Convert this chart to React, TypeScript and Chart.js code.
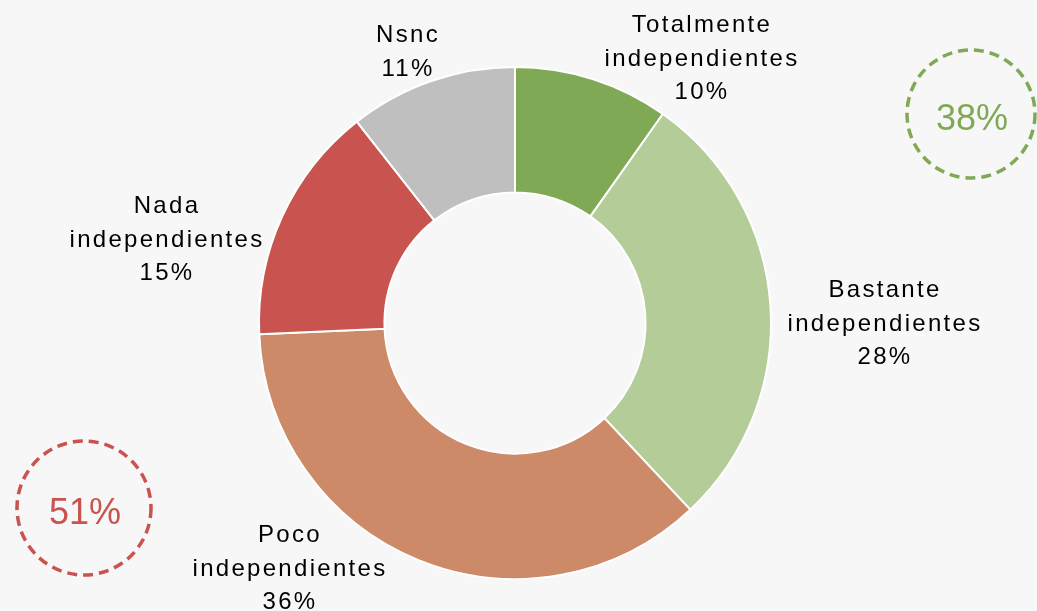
import React, { useEffect, useRef } from "react";
import { Chart, registerables } from "chart.js";

Chart.register(...registerables);

const categories = [
  "Totalmente independientes",
  "Bastante independientes",
  "Poco independientes",
  "Nada independientes",
  "Nsnc",
];
const values = [9.8, 28.2, 36.3, 15.1, 10.6];
const valueLabels = ["10%", "28%", "36%", "15%", "11%"];
const labelLines = [
  ["Totalmente", "independientes"],
  ["Bastante", "independientes"],
  ["Poco", "independientes"],
  ["Nada", "independientes"],
  ["Nsnc"],
];
const colors = ["#80A955", "#B3CC98", "#CD8A69", "#C9534E", "#BFBFBF"];
const summaryLabels = ["38%", "51%"];
const summaryColors = ["#80A955", "#C9534E"];

// layout positions for the outside labels (center x, baseline of first line)
const labelPos = [
  { x: 701, y: 32 },
  { x: 884, y: 297 },
  { x: 289, y: 542 },
  { x: 166, y: 213 },
  { x: 407, y: 42 },
];
const circlePos = [
  { x: 971, y: 114, r: 64, ty: 120 },
  { x: 84, y: 508, r: 67, ty: 514 },
];

const overlayPlugin = {
  id: "overlay",
  afterDraw(chart: any) {
    const ctx = chart.ctx as CanvasRenderingContext2D;
    ctx.save();
    ctx.fillStyle = "#000000";
    ctx.textAlign = "center";
    ctx.textBaseline = "alphabetic";
    ctx.font = '24px "Liberation Sans", Arial, sans-serif';
    (ctx as any).letterSpacing = "2.3px";
    labelPos.forEach((p, i) => {
      const lines = [...labelLines[i], valueLabels[i]];
      lines.forEach((t, j) => {
        ctx.fillText(t, p.x + 1, p.y + j * 33.5);
      });
    });
    (ctx as any).letterSpacing = "0px";
    circlePos.forEach((c, i) => {
      ctx.beginPath();
      ctx.setLineDash([10, 6]);
      ctx.lineWidth = 3.5;
      ctx.strokeStyle = summaryColors[i];
      ctx.arc(c.x, c.y, c.r, 0, Math.PI * 2);
      ctx.stroke();
      ctx.setLineDash([]);
      ctx.fillStyle = summaryColors[i];
      ctx.font = '36px "Liberation Sans", Arial, sans-serif';
      ctx.textBaseline = "middle";
      ctx.fillText(summaryLabels[i], c.x + 1, c.ty);
    });
    ctx.restore();
  },
};

export default function App() {
  const ref = useRef<HTMLCanvasElement>(null);
  useEffect(() => {
    document.body.style.margin = "0";
    document.body.style.background = "#F7F7F7";
    const chart = new Chart(ref.current!, {
      type: "doughnut",
      data: {
        labels: categories,
        datasets: [
          {
            data: values,
            backgroundColor: colors,
            borderColor: "#FFFFFF",
            borderWidth: 2,
            hoverOffset: 0,
            offset: 0,
          },
        ],
      },
      options: {
        responsive: false,
        animation: false,
        cutout: "51%",
        layout: { padding: { top: 66, bottom: 31, left: 258, right: 265 } },
        plugins: {
          legend: { display: false },
          tooltip: { enabled: false },
        },
      },
      plugins: [overlayPlugin],
    });
    return () => chart.destroy();
  }, []);
  return (
    <div style={{ width: 1037, height: 611, background: "#F7F7F7" }}>
      <canvas ref={ref} width={1037} height={611} />
    </div>
  );
}
